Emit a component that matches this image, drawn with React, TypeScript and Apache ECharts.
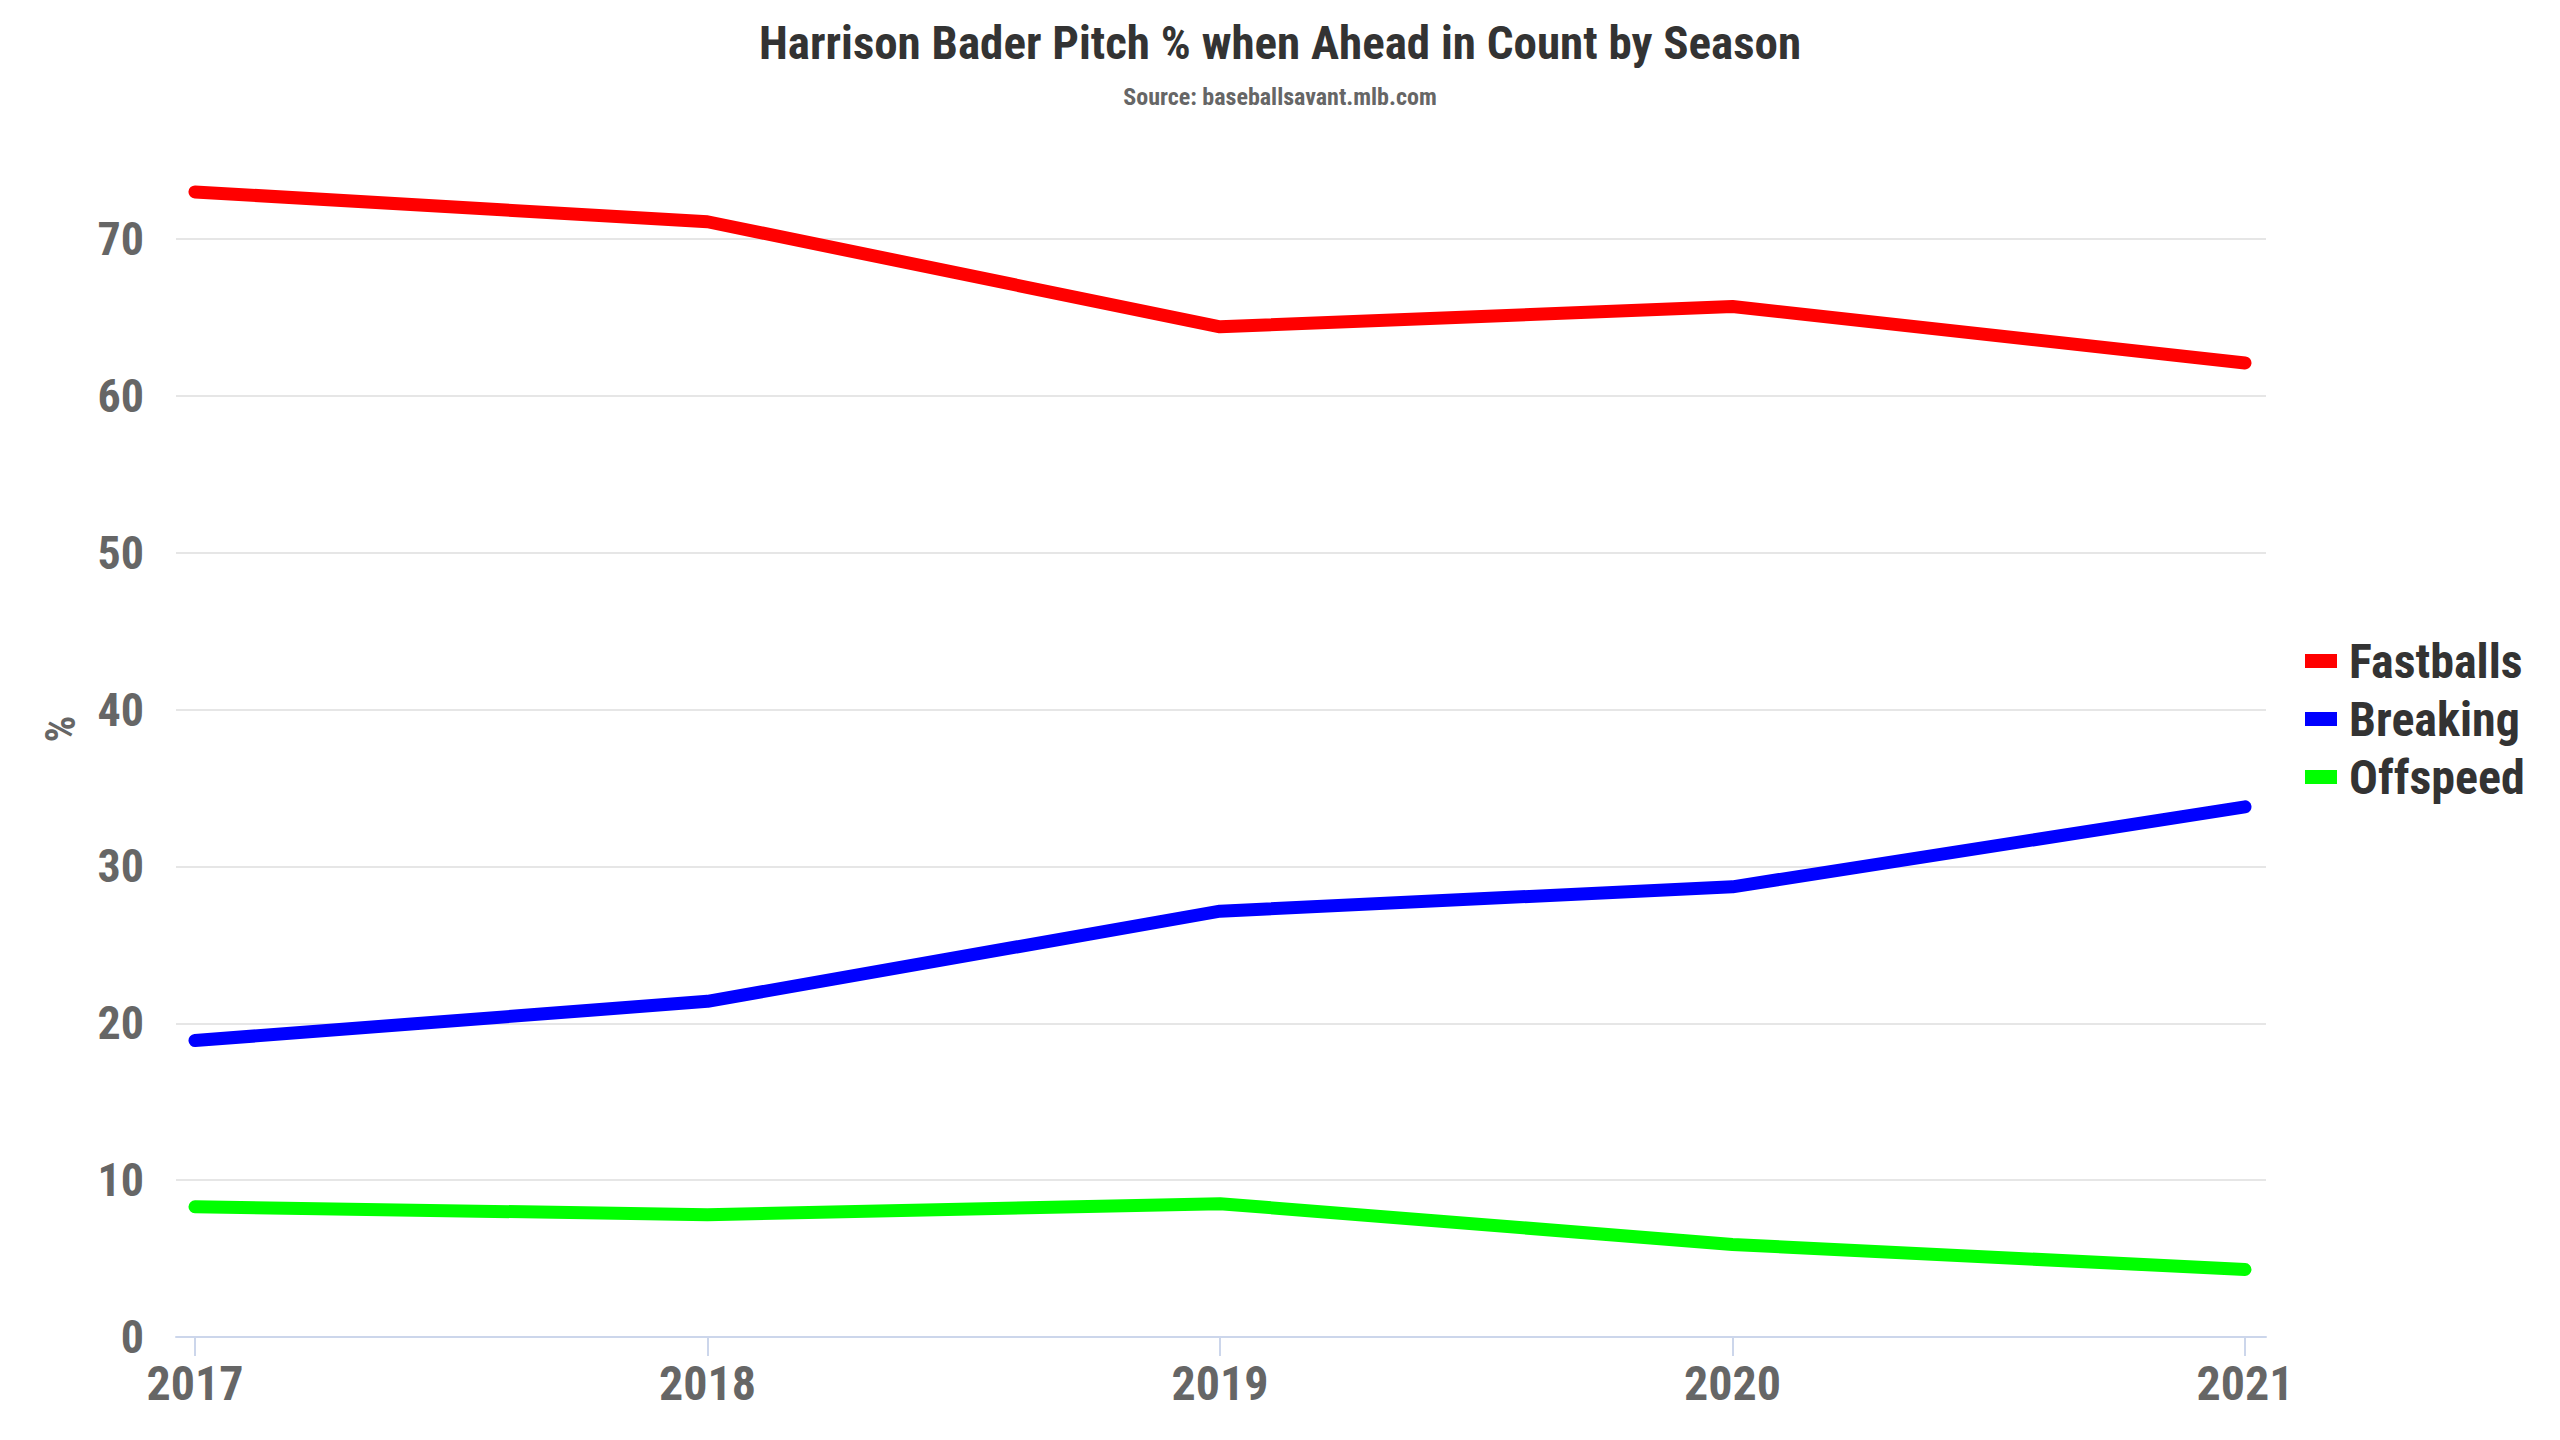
import React, { useEffect, useRef } from "react";
import * as echarts from "echarts";

const TITLE = "Harrison Bader Pitch % when Ahead in Count by Season";
const SUBTITLE = "Source: baseballsavant.mlb.com";
const seasons = [2017, 2018, 2019, 2020, 2021];
const fastballs = [73.0, 71.1, 64.4, 65.7, 62.1];
const breaking = [18.9, 21.4, 27.15, 28.7, 33.8];
const offspeed = [8.3, 7.8, 8.5, 5.9, 4.3];
const yTicks = [0, 10, 20, 30, 40, 50, 60, 70];

const FONT = "'Roboto Condensed', 'Liberation Sans Narrow', 'Arial Narrow', Roboto, sans-serif";

export default function App() {
  const ref = useRef<HTMLDivElement>(null);
  useEffect(() => {
    document.body.style.margin = "0";
    if (!ref.current) return;
    const chart = echarts.init(ref.current, undefined, { renderer: "svg" });
    const mk = (vals: number[]) => seasons.map((s, i) => [s, vals[i]]);
    const series = [
      { name: "Fastballs", color: "#ff0000", data: fastballs },
      { name: "Breaking", color: "#0000ff", data: breaking },
      { name: "Offspeed", color: "#00ff00", data: offspeed },
    ].map((s) => ({
      name: s.name,
      type: "line",
      data: mk(s.data),
      symbol: "none",
      clip: false,
      color: s.color,
      itemStyle: { color: s.color },
      lineStyle: { color: s.color, width: 13, cap: "round", join: "round" },
    }));
    chart.setOption({
      animation: false,
      backgroundColor: "#ffffff",
      textStyle: { fontFamily: FONT },
      title: {
        text: TITLE,
        subtext: SUBTITLE,
        left: "center",
        top: 14,
        itemGap: 19,
        textStyle: { fontFamily: FONT, fontSize: 47, fontWeight: "bold", color: "#333333" },
        subtextStyle: { fontFamily: FONT, fontSize: 24, fontWeight: "bold", color: "#666666" },
      },
      legend: {
        orient: "vertical",
        left: 2300,
        top: 632,
        icon: "rect",
        itemWidth: 32,
        itemHeight: 14,
        itemGap: 10,
        data: series.map((s) => s.name),
        textStyle: {
          fontFamily: FONT,
          fontSize: 48,
          lineHeight: 48,
          fontWeight: "bold",
          color: "#333333",
          padding: [0, 0, 0, 7],
        },
      },
      grid: { left: 176, right: 294, top: 239, bottom: 103, containLabel: false },
      xAxis: {
        type: "value",
        min: 2016.963,
        max: 2021.041,
        splitLine: { show: false },
        axisLine: { show: true, lineStyle: { color: "#ccd6eb", width: 2 } },
        axisTick: {
          show: true,
          length: 19,
          customValues: seasons,
          lineStyle: { color: "#ccd6eb", width: 2 },
        },
        axisLabel: {
          customValues: seasons,
          formatter: (v: number) => String(Math.round(v)),
          fontFamily: FONT,
          fontSize: 48,
          fontWeight: "bold",
          color: "#666666",
          margin: 22,
        },
      },
      yAxis: {
        type: "value",
        min: 0,
        max: 70,
        interval: 10,
        axisLine: { show: false },
        axisTick: { show: false },
        splitLine: { show: true, lineStyle: { color: "#e6e6e6", width: 2 } },
        axisLabel: {
          customValues: yTicks,
          fontFamily: FONT,
          fontSize: 46,
          fontWeight: "bold",
          color: "#666666",
          margin: 32,
        },
      },
      graphic: [
        {
          type: "text",
          x: 60,
          y: 729,
          rotation: Math.PI / 2,
          style: {
            text: "%",
            fontFamily: FONT,
            fontSize: 42,
            fontWeight: "bold",
            fill: "#666666",
            align: "center",
            verticalAlign: "middle",
          },
        },
      ],
      series,
    });
    return () => chart.dispose();
  }, []);
  return <div ref={ref} style={{ width: 2560, height: 1440 }} />;
}
